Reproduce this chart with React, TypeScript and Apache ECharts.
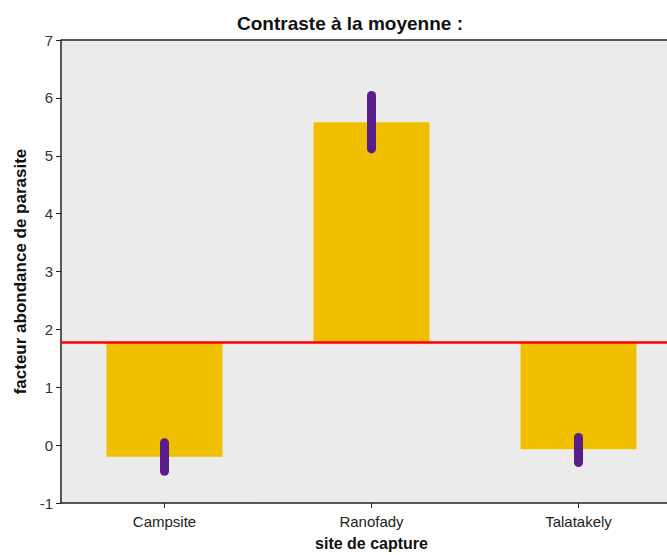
import React, { useEffect, useRef } from "react";
import * as echarts from "echarts";

const categories = ["Campsite", "Ranofady", "Talatakely"];
const meanValue = 1.78;
const barValues = [-0.2, 5.58, -0.07];
const errorLow = [-0.53, 5.04, -0.38];
const errorHigh = [0.12, 6.12, 0.21];
const yMin = -1;
const yMax = 7;
const yInterval = 1;

const FONT = "'Liberation Sans', Arial, sans-serif";

export default function App() {
  const ref = useRef<HTMLDivElement>(null);
  useEffect(() => {
    if (!ref.current) return;
    const chart = echarts.init(ref.current, undefined, { renderer: "svg" });
    const baseData = barValues.map((v) => Math.min(v, meanValue));
    const diffData = barValues.map((v) => Math.abs(v - meanValue));
    const errData = categories.map((c, i) => [i, errorLow[i], errorHigh[i]]);
    chart.setOption({
      animation: false,
      backgroundColor: "#ffffff",
      title: {
        text: "Contraste à la moyenne :",
        left: 345,
        top: 9,
        textAlign: "center",
        textStyle: { fontFamily: FONT, fontSize: 19, fontWeight: "bold", color: "#111" },
      },
      grid: {
        left: 61,
        top: 40,
        width: 621,
        height: 463,
        outerBoundsMode: "none",
        containLabel: false,
        show: true,
        backgroundColor: "#ebebeb",
        borderWidth: 0,
      },
      xAxis: {
        type: "category",
        data: categories,
        position: "bottom",
        name: "site de capture",
        nameLocation: "middle",
        nameGap: 32,
        nameTextStyle: { fontFamily: FONT, fontSize: 16, fontWeight: "bold", color: "#111" },
        axisLine: { show: true, onZero: false, lineStyle: { color: "#222", width: 1.5 } },
        axisTick: { show: true, alignWithLabel: true, length: 5, lineStyle: { color: "#222" } },
        axisLabel: { fontFamily: FONT, fontSize: 15, color: "#222", margin: 11 },
        splitLine: { show: false },
      },
      yAxis: [
        {
          type: "value",
          min: yMin,
          max: yMax,
          interval: yInterval,
          name: "facteur abondance de parasite",
          nameLocation: "middle",
          nameGap: 32,
          nameTextStyle: { fontFamily: FONT, fontSize: 17, fontWeight: "bold", color: "#111" },
          axisLine: { show: true, onZero: false, lineStyle: { color: "#222", width: 1.5 } },
          axisTick: { show: true, length: 5, lineStyle: { color: "#222" } },
          axisLabel: { fontFamily: FONT, fontSize: 15, color: "#333", margin: 8 },
          splitLine: { show: false },
        },
      ],
      graphic: [
        {
          type: "line",
          shape: { x1: 61, y1: 40, x2: 667, y2: 40 },
          style: { stroke: "#222", lineWidth: 1.5 },
          z: 100,
        },
      ],
      series: [
        {
          type: "bar",
          stack: "s",
          stackStrategy: "all",
          data: baseData,
          barWidth: "56%",
          itemStyle: { color: "transparent" },
          silent: true,
        },
        {
          type: "bar",
          stack: "s",
          stackStrategy: "all",
          data: diffData,
          barWidth: "56%",
          itemStyle: { color: "#f0c000" },
          markLine: {
            symbol: "none",
            silent: true,
            label: { show: false },
            lineStyle: { color: "#ff0000", width: 2.5, type: "solid" },
            data: [{ yAxis: meanValue }],
            z: 10,
          },
        },
        {
          type: "custom",
          data: errData,
          z: 20,
          renderItem: (params: any, api: any) => {
            const x = api.value(0);
            const p1 = api.coord([x, api.value(1)]);
            const p2 = api.coord([x, api.value(2)]);
            return {
              type: "line",
              shape: { x1: p1[0], y1: p1[1] - 4.5, x2: p2[0], y2: p2[1] + 4.5 },
              style: { stroke: "#5a1e8c", lineWidth: 9, lineCap: "round" },
            };
          },
        },
      ],
    });
    return () => chart.dispose();
  }, []);
  return <div ref={ref} style={{ width: 667, height: 555, position: "absolute", left: 0, top: 0 }} />;
}
